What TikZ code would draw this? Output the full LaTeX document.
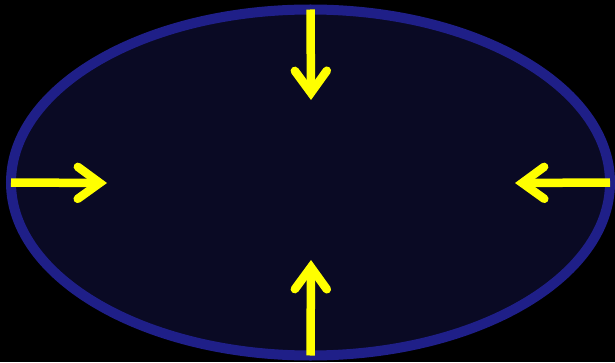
\documentclass[tikz,border=0pt]{standalone}
\usepackage{tikz}
\usetikzlibrary{arrows.meta,shapes.geometric,positioning}
\definecolor{rim}{HTML}{1F1F88}
\definecolor{core}{HTML}{0A0A24}
\definecolor{ray}{HTML}{FFFF00}

\begin{document}
\begin{tikzpicture}[x=1pt,y=1pt,
  oval/.style={ellipse,draw=rim,fill=core,line width=10pt,inner sep=0pt,outer sep=0pt,minimum width=599pt,minimum height=346pt},
  push/.style={-{Straight Barb[length=22pt,width=32pt,line cap=round,line join=miter]},draw=ray,line width=8.5pt}]
  \useasboundingbox[fill=black] (0,0) rectangle (615,362);
  \node[oval] (cell) at (310.5,179.5) {};
  \coordinate (tipN) at (311,262);
  \coordinate (tipS) at (311,102);
  \coordinate (tipW) at (107,179);
  \coordinate (tipE) at (515,179);
  \draw[push] (cell.north) -- (tipN);
  \draw[push] (cell.south) -- (tipS);
  \draw[push] (cell.west) -- (tipW);
  \draw[push] (cell.east) -- (tipE);
\end{tikzpicture}
\end{document}
